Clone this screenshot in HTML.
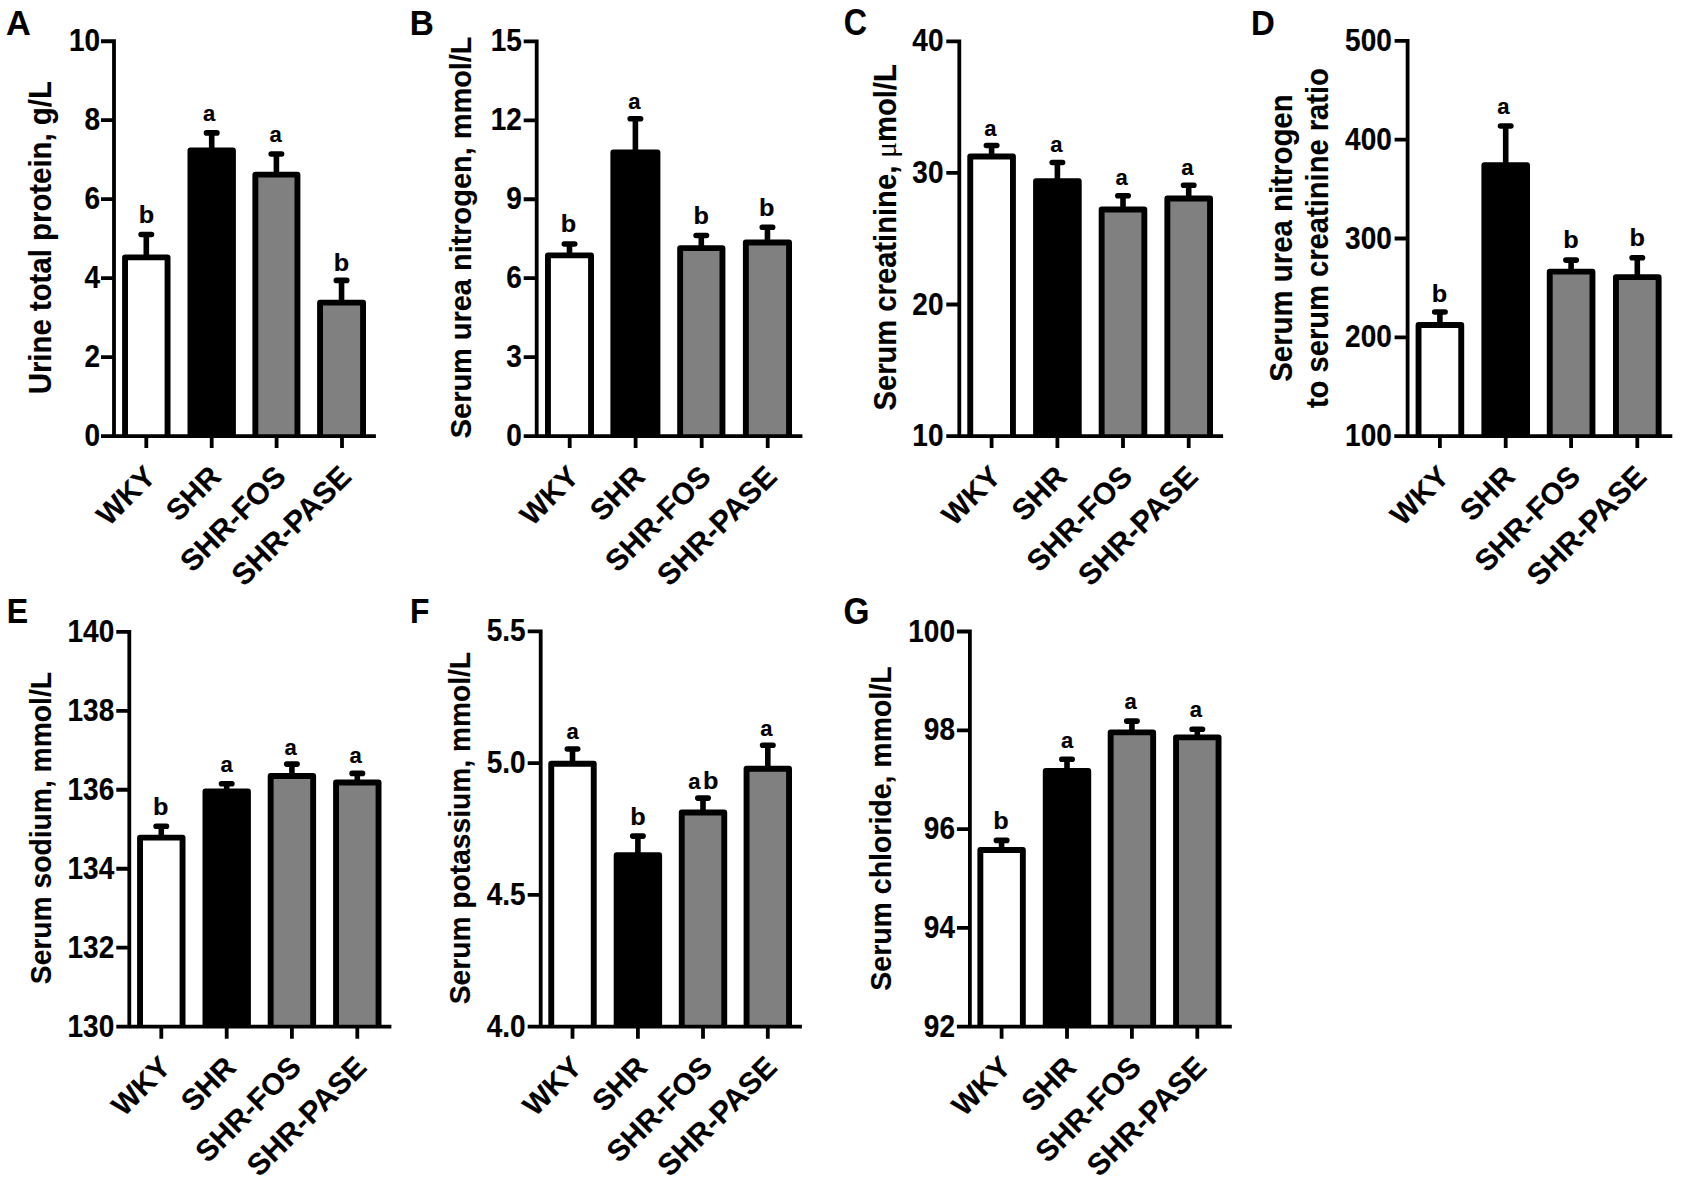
<!DOCTYPE html>
<html lang="en"><head><meta charset="utf-8"><title>Figure</title>
<style>html,body{margin:0;padding:0;background:#fff}body{width:1685px;height:1186px;overflow:hidden}svg{display:block}
text{font-family:'Liberation Sans', sans-serif;font-weight:bold;fill:#000;stroke:#000;stroke-width:.15px}.tk{font-size:28px;text-anchor:end}.yl{text-anchor:start}.xl{font-size:29.7px;text-anchor:end}.sg{font-size:22px;text-anchor:middle}.lt{font-size:35px}.mu{font-family:'Liberation Serif','DejaVu Serif',serif;font-weight:normal;stroke-width:0}
</style></head><body>
<svg width="1685" height="1186" viewBox="0 0 1685 1186">
<rect width="1685" height="1186" fill="#fff"/>
<g>
<text class="lt" transform="translate(5.9 35.4) scale(0.98 1)">A</text>
<path d="M146.3 257.35V234.5M141.1 234.5H151.5" stroke="#000" stroke-width="5.6" stroke-linecap="round" fill="none"/>
<path d="M125.05 436.1V257.35H167.55V436.1" fill="#fff" stroke="#000" stroke-width="5.9" stroke-linejoin="round"/>
<text class="sg" transform="translate(146.6 223.1) scale(1.15 1.1)">b</text>
<path d="M211.7 150.55V132.9M206.5 132.9H216.9" stroke="#000" stroke-width="5.6" stroke-linecap="round" fill="none"/>
<path d="M190.45 436.1V150.55H232.95V436.1" fill="#000" stroke="#000" stroke-width="5.9" stroke-linejoin="round"/>
<text class="sg" transform="translate(209.2 120.5) scale(1 1.03)">a</text>
<path d="M276.4 174.65V154M271.2 154H281.6" stroke="#000" stroke-width="5.6" stroke-linecap="round" fill="none"/>
<path d="M255.35 436.1V174.65H297.45V436.1" fill="#808080" stroke="#000" stroke-width="5.9" stroke-linejoin="round"/>
<text class="sg" transform="translate(275.6 141.6) scale(1 1.03)">a</text>
<path d="M341.55 302.65V280.4M336.35 280.4H346.75" stroke="#000" stroke-width="5.6" stroke-linecap="round" fill="none"/>
<path d="M320.05 436.1V302.65H363.05V436.1" fill="#808080" stroke="#000" stroke-width="5.9" stroke-linejoin="round"/>
<text class="sg" transform="translate(341.55 271) scale(1.15 1.1)">b</text>
<path d="M114 39.35V436.1M101 41.25H114M101 120.22H114M101 199.19H114M101 278.16H114M101 357.13H114M101 436.1H114M101.9 436.1H375.9M146.3 436.1V448.1M211.7 436.1V448.1M276.6 436.1V448.1M342 436.1V448.1" stroke="#000" stroke-width="3.8" fill="none"/>
<text class="tk" transform="translate(100.1 51.25) scale(1 1.13)">10</text>
<text class="tk" transform="translate(100.1 130.22) scale(1 1.13)">8</text>
<text class="tk" transform="translate(100.1 209.19) scale(1 1.13)">6</text>
<text class="tk" transform="translate(100.1 288.16) scale(1 1.13)">4</text>
<text class="tk" transform="translate(100.1 367.13) scale(1 1.13)">2</text>
<text class="tk" transform="translate(100.1 446.1) scale(1 1.13)">0</text>
<text class="xl" style="font-size:29.4px" transform="translate(157.3 478.4) rotate(-45)">WKY</text>
<text class="xl" style="font-size:29.7px" transform="translate(222.7 478.4) rotate(-45)">SHR</text>
<text class="xl" style="font-size:29.9px" transform="translate(287.6 478.4) rotate(-45)">SHR-FOS</text>
<text class="xl" style="font-size:30.3px" transform="translate(353 478.4) rotate(-45)">SHR-PASE</text>
<text class="yl" style="font-size:29.38px" transform="translate(51 394.33) scale(1.045 1) rotate(-90)">Urine total protein, g/L</text>
</g>
<g>
<text class="lt" transform="translate(409.8 34.6) scale(0.95 1.02)">B</text>
<path d="M569.5 255.35V244M564.3 244H574.7" stroke="#000" stroke-width="5.6" stroke-linecap="round" fill="none"/>
<path d="M547.95 436.1V255.35H591.05V436.1" fill="#fff" stroke="#000" stroke-width="5.9" stroke-linejoin="round"/>
<text class="sg" transform="translate(568.5 231.6) scale(1.15 1.1)">b</text>
<path d="M635.4 152.45V118.8M630.2 118.8H640.6" stroke="#000" stroke-width="5.6" stroke-linecap="round" fill="none"/>
<path d="M613.35 436.1V152.45H657.45V436.1" fill="#000" stroke="#000" stroke-width="5.9" stroke-linejoin="round"/>
<text class="sg" transform="translate(634.4 109.3) scale(1 1.03)">a</text>
<path d="M701.3 248.15V235.5M696.1 235.5H706.5" stroke="#000" stroke-width="5.6" stroke-linecap="round" fill="none"/>
<path d="M680.15 436.1V248.15H722.45V436.1" fill="#808080" stroke="#000" stroke-width="5.9" stroke-linejoin="round"/>
<text class="sg" transform="translate(701.3 223.6) scale(1.15 1.1)">b</text>
<path d="M767.45 242.45V227.2M762.25 227.2H772.65" stroke="#000" stroke-width="5.6" stroke-linecap="round" fill="none"/>
<path d="M745.85 436.1V242.45H789.05V436.1" fill="#808080" stroke="#000" stroke-width="5.9" stroke-linejoin="round"/>
<text class="sg" transform="translate(766.65 216.3) scale(1.15 1.1)">b</text>
<path d="M536.7 39.45V436.1M523.7 41.35H536.7M523.7 120.3H536.7M523.7 199.25H536.7M523.7 278.2H536.7M523.7 357.15H536.7M523.7 436.1H536.7M525 436.1H802.4M569.7 436.1V448.1M635.6 436.1V448.1M701.7 436.1V448.1M767.7 436.1V448.1" stroke="#000" stroke-width="3.8" fill="none"/>
<text class="tk" transform="translate(521.9 51.35) scale(1 1.13)">15</text>
<text class="tk" transform="translate(521.9 130.3) scale(1 1.13)">12</text>
<text class="tk" transform="translate(521.9 209.25) scale(1 1.13)">9</text>
<text class="tk" transform="translate(521.9 288.2) scale(1 1.13)">6</text>
<text class="tk" transform="translate(521.9 367.15) scale(1 1.13)">3</text>
<text class="tk" transform="translate(521.9 446.1) scale(1 1.13)">0</text>
<text class="xl" style="font-size:29.4px" transform="translate(580.7 478.4) rotate(-45)">WKY</text>
<text class="xl" style="font-size:29.7px" transform="translate(646.6 478.4) rotate(-45)">SHR</text>
<text class="xl" style="font-size:29.9px" transform="translate(712.7 478.4) rotate(-45)">SHR-FOS</text>
<text class="xl" style="font-size:30.3px" transform="translate(778.7 478.4) rotate(-45)">SHR-PASE</text>
<text class="yl" style="font-size:28.93px" transform="translate(470.7 438.2) scale(1.045 1) rotate(-90)">Serum urea nitrogen, mmol/L</text>
</g>
<g>
<text class="lt" transform="translate(843.7 35.1) scale(0.92 1.055)">C</text>
<path d="M991.6 156.55V145.5M986.4 145.5H996.8" stroke="#000" stroke-width="5.6" stroke-linecap="round" fill="none"/>
<path d="M970.25 436.1V156.55H1012.95V436.1" fill="#fff" stroke="#000" stroke-width="5.9" stroke-linejoin="round"/>
<text class="sg" transform="translate(990.3 136.3) scale(1 1.03)">a</text>
<path d="M1057.4 181.15V162.5M1052.2 162.5H1062.6" stroke="#000" stroke-width="5.6" stroke-linecap="round" fill="none"/>
<path d="M1036.05 436.1V181.15H1078.75V436.1" fill="#000" stroke="#000" stroke-width="5.9" stroke-linejoin="round"/>
<text class="sg" transform="translate(1056.4 152.2) scale(1 1.03)">a</text>
<path d="M1123 209.55V195.7M1117.8 195.7H1128.2" stroke="#000" stroke-width="5.6" stroke-linecap="round" fill="none"/>
<path d="M1101.65 436.1V209.55H1144.35V436.1" fill="#808080" stroke="#000" stroke-width="5.9" stroke-linejoin="round"/>
<text class="sg" transform="translate(1121.6 185.3) scale(1 1.03)">a</text>
<path d="M1188.7 198.55V185.3M1183.5 185.3H1193.9" stroke="#000" stroke-width="5.6" stroke-linecap="round" fill="none"/>
<path d="M1167.35 436.1V198.55H1210.05V436.1" fill="#808080" stroke="#000" stroke-width="5.9" stroke-linejoin="round"/>
<text class="sg" transform="translate(1187.3 175) scale(1 1.03)">a</text>
<path d="M959.3 39.4V436.1M946.3 41.3H959.3M946.3 172.9H959.3M946.3 304.5H959.3M946.3 436.1H959.3M946.9 436.1H1223.1M991.6 436.1V448.1M1057.4 436.1V448.1M1123 436.1V448.1M1188.7 436.1V448.1" stroke="#000" stroke-width="3.8" fill="none"/>
<text class="tk" transform="translate(943.5 51.3) scale(1 1.13)">40</text>
<text class="tk" transform="translate(943.5 182.9) scale(1 1.13)">30</text>
<text class="tk" transform="translate(943.5 314.5) scale(1 1.13)">20</text>
<text class="tk" transform="translate(943.5 446.1) scale(1 1.13)">10</text>
<text class="xl" style="font-size:29.4px" transform="translate(1002.6 478.4) rotate(-45)">WKY</text>
<text class="xl" style="font-size:29.7px" transform="translate(1068.4 478.4) rotate(-45)">SHR</text>
<text class="xl" style="font-size:29.9px" transform="translate(1134 478.4) rotate(-45)">SHR-FOS</text>
<text class="xl" style="font-size:30.3px" transform="translate(1199.7 478.4) rotate(-45)">SHR-PASE</text>
<text class="yl" style="font-size:29.17px" transform="translate(895.5 410.51) scale(1.045 1) rotate(-90)">Serum creatinine, <tspan class="mu">μ</tspan>mol/L</text>
</g>
<g>
<text class="lt" transform="translate(1251 34.7) scale(0.94 1.02)">D</text>
<path d="M1439.9 325.05V312M1434.7 312H1445.1" stroke="#000" stroke-width="5.6" stroke-linecap="round" fill="none"/>
<path d="M1418.55 436.1V325.05H1461.25V436.1" fill="#fff" stroke="#000" stroke-width="5.9" stroke-linejoin="round"/>
<text class="sg" transform="translate(1439.4 301.6) scale(1.15 1.1)">b</text>
<path d="M1505.7 165.25V126M1500.5 126H1510.9" stroke="#000" stroke-width="5.6" stroke-linecap="round" fill="none"/>
<path d="M1484.35 436.1V165.25H1527.05V436.1" fill="#000" stroke="#000" stroke-width="5.9" stroke-linejoin="round"/>
<text class="sg" transform="translate(1503.3 114.1) scale(1 1.03)">a</text>
<path d="M1571.1 271.65V260.1M1565.9 260.1H1576.3" stroke="#000" stroke-width="5.6" stroke-linecap="round" fill="none"/>
<path d="M1549.75 436.1V271.65H1592.45V436.1" fill="#808080" stroke="#000" stroke-width="5.9" stroke-linejoin="round"/>
<text class="sg" transform="translate(1571.1 248.3) scale(1.15 1.1)">b</text>
<path d="M1637.3 277.15V257.7M1632.1 257.7H1642.5" stroke="#000" stroke-width="5.6" stroke-linecap="round" fill="none"/>
<path d="M1615.95 436.1V277.15H1658.65V436.1" fill="#808080" stroke="#000" stroke-width="5.9" stroke-linejoin="round"/>
<text class="sg" transform="translate(1637.3 246.3) scale(1.15 1.1)">b</text>
<path d="M1407.6 39V436.1M1394.6 40.9H1407.6M1394.6 139.7H1407.6M1394.6 238.5H1407.6M1394.6 337.3H1407.6M1394.6 436.1H1407.6M1394.3 436.1H1672.3M1439.9 436.1V448.1M1505.7 436.1V448.1M1571.1 436.1V448.1M1637.3 436.1V448.1" stroke="#000" stroke-width="3.8" fill="none"/>
<text class="tk" transform="translate(1391.8 50.9) scale(1 1.13)">500</text>
<text class="tk" transform="translate(1391.8 149.7) scale(1 1.13)">400</text>
<text class="tk" transform="translate(1391.8 248.5) scale(1 1.13)">300</text>
<text class="tk" transform="translate(1391.8 347.3) scale(1 1.13)">200</text>
<text class="tk" transform="translate(1391.8 446.1) scale(1 1.13)">100</text>
<text class="xl" style="font-size:29.4px" transform="translate(1450.9 478.4) rotate(-45)">WKY</text>
<text class="xl" style="font-size:29.7px" transform="translate(1516.7 478.4) rotate(-45)">SHR</text>
<text class="xl" style="font-size:29.9px" transform="translate(1582.1 478.4) rotate(-45)">SHR-FOS</text>
<text class="xl" style="font-size:30.3px" transform="translate(1648.3 478.4) rotate(-45)">SHR-PASE</text>
<text class="yl" style="font-size:29.41px" transform="translate(1291.8 381.81) scale(1.045 1) rotate(-90)">Serum urea nitrogen</text>
<text class="yl" style="font-size:29.14px" transform="translate(1328.3 408.1) scale(1.045 1) rotate(-90)">to serum creatinine ratio</text>
</g>
<g>
<text class="lt" transform="translate(6.8 622.7) scale(0.915 1.02)">E</text>
<path d="M161.3 837.65V826.3M156.1 826.3H166.5" stroke="#000" stroke-width="5.6" stroke-linecap="round" fill="none"/>
<path d="M140.05 1026.7V837.65H182.55V1026.7" fill="#fff" stroke="#000" stroke-width="5.9" stroke-linejoin="round"/>
<text class="sg" transform="translate(160.8 814.5) scale(1.15 1.1)">b</text>
<path d="M226.7 791.55V783.8M221.5 783.8H231.9" stroke="#000" stroke-width="5.6" stroke-linecap="round" fill="none"/>
<path d="M205.45 1026.7V791.55H247.95V1026.7" fill="#000" stroke="#000" stroke-width="5.9" stroke-linejoin="round"/>
<text class="sg" transform="translate(226.7 772.2) scale(1 1.03)">a</text>
<path d="M291.9 776.05V764.1M286.7 764.1H297.1" stroke="#000" stroke-width="5.6" stroke-linecap="round" fill="none"/>
<path d="M270.65 1026.7V776.05H313.15V1026.7" fill="#808080" stroke="#000" stroke-width="5.9" stroke-linejoin="round"/>
<text class="sg" transform="translate(290.5 754.9) scale(1 1.03)">a</text>
<path d="M357.3 782.45V773.4M352.1 773.4H362.5" stroke="#000" stroke-width="5.6" stroke-linecap="round" fill="none"/>
<path d="M336.05 1026.7V782.45H378.55V1026.7" fill="#808080" stroke="#000" stroke-width="5.9" stroke-linejoin="round"/>
<text class="sg" transform="translate(355.7 763) scale(1 1.03)">a</text>
<path d="M129.3 629.9V1026.7M116.3 631.8H129.3M116.3 710.78H129.3M116.3 789.76H129.3M116.3 868.74H129.3M116.3 947.72H129.3M116.3 1026.7H129.3M116.9 1026.7H391.4M161.3 1026.7V1038.7M226.7 1026.7V1038.7M291.9 1026.7V1038.7M357.3 1026.7V1038.7" stroke="#000" stroke-width="3.8" fill="none"/>
<text class="tk" transform="translate(114.2 641.8) scale(1 1.13)">140</text>
<text class="tk" transform="translate(114.2 720.78) scale(1 1.13)">138</text>
<text class="tk" transform="translate(114.2 799.76) scale(1 1.13)">136</text>
<text class="tk" transform="translate(114.2 878.74) scale(1 1.13)">134</text>
<text class="tk" transform="translate(114.2 957.72) scale(1 1.13)">132</text>
<text class="tk" transform="translate(114.2 1036.7) scale(1 1.13)">130</text>
<text class="xl" style="font-size:29.4px" transform="translate(172.3 1069) rotate(-45)">WKY</text>
<text class="xl" style="font-size:29.7px" transform="translate(237.7 1069) rotate(-45)">SHR</text>
<text class="xl" style="font-size:29.9px" transform="translate(302.9 1069) rotate(-45)">SHR-FOS</text>
<text class="xl" style="font-size:30.3px" transform="translate(368.3 1069) rotate(-45)">SHR-PASE</text>
<text class="yl" style="font-size:28.25px" transform="translate(50.6 984.17) scale(1.045 1) rotate(-90)">Serum sodium, mmol/L</text>
</g>
<g>
<text class="lt" transform="translate(409.9 623) scale(0.906 1.01)">F</text>
<path d="M572.5 763.75V749M567.3 749H577.7" stroke="#000" stroke-width="5.6" stroke-linecap="round" fill="none"/>
<path d="M551.25 1026.7V763.75H593.75V1026.7" fill="#fff" stroke="#000" stroke-width="5.9" stroke-linejoin="round"/>
<text class="sg" transform="translate(572.5 738.8) scale(1 1.03)">a</text>
<path d="M637.9 855.15V836.1M632.7 836.1H643.1" stroke="#000" stroke-width="5.6" stroke-linecap="round" fill="none"/>
<path d="M616.65 1026.7V855.15H659.15V1026.7" fill="#000" stroke="#000" stroke-width="5.9" stroke-linejoin="round"/>
<text class="sg" transform="translate(637.9 824.9) scale(1.15 1.1)">b</text>
<path d="M703 812.55V798.1M697.8 798.1H708.2" stroke="#000" stroke-width="5.6" stroke-linecap="round" fill="none"/>
<path d="M681.75 1026.7V812.55H724.25V1026.7" fill="#808080" stroke="#000" stroke-width="5.9" stroke-linejoin="round"/>
<text class="sg" transform="translate(694.4 788.7) scale(1 1.03)">a</text>
<text class="sg" transform="translate(710.8 788.7) scale(1.15 1.1)">b</text>
<path d="M767.8 768.75V745.3M762.6 745.3H773" stroke="#000" stroke-width="5.6" stroke-linecap="round" fill="none"/>
<path d="M746.55 1026.7V768.75H789.05V1026.7" fill="#808080" stroke="#000" stroke-width="5.9" stroke-linejoin="round"/>
<text class="sg" transform="translate(766.4 735.6) scale(1 1.03)">a</text>
<path d="M540.7 629.4V1026.7M527.7 631.3H540.7M527.7 763.1H540.7M527.7 894.9H540.7M527.7 1026.7H540.7M528.3 1026.7H801.9M572.5 1026.7V1038.7M637.9 1026.7V1038.7M703 1026.7V1038.7M767.8 1026.7V1038.7" stroke="#000" stroke-width="3.8" fill="none"/>
<text class="tk" transform="translate(525.6 641.3) scale(1 1.13)">5.5</text>
<text class="tk" transform="translate(525.6 773.1) scale(1 1.13)">5.0</text>
<text class="tk" transform="translate(525.6 904.9) scale(1 1.13)">4.5</text>
<text class="tk" transform="translate(525.6 1036.7) scale(1 1.13)">4.0</text>
<text class="xl" style="font-size:29.4px" transform="translate(583.5 1069) rotate(-45)">WKY</text>
<text class="xl" style="font-size:29.7px" transform="translate(648.9 1069) rotate(-45)">SHR</text>
<text class="xl" style="font-size:29.9px" transform="translate(714 1069) rotate(-45)">SHR-FOS</text>
<text class="xl" style="font-size:30.3px" transform="translate(778.8 1069) rotate(-45)">SHR-PASE</text>
<text class="yl" style="font-size:28.18px" transform="translate(470 1004.17) scale(1.045 1) rotate(-90)">Serum potassium, mmol/L</text>
</g>
<g>
<text class="lt" transform="translate(843.6 623.5) scale(0.953 1.08)">G</text>
<path d="M1001.6 849.95V840.4M996.4 840.4H1006.8" stroke="#000" stroke-width="5.6" stroke-linecap="round" fill="none"/>
<path d="M980.35 1026.7V849.95H1022.85V1026.7" fill="#fff" stroke="#000" stroke-width="5.9" stroke-linejoin="round"/>
<text class="sg" transform="translate(1001.1 828.5) scale(1.15 1.1)">b</text>
<path d="M1067 770.95V759.3M1061.8 759.3H1072.2" stroke="#000" stroke-width="5.6" stroke-linecap="round" fill="none"/>
<path d="M1045.75 1026.7V770.95H1088.25V1026.7" fill="#000" stroke="#000" stroke-width="5.9" stroke-linejoin="round"/>
<text class="sg" transform="translate(1067 748.2) scale(1 1.03)">a</text>
<path d="M1131.9 732.35V721.1M1126.7 721.1H1137.1" stroke="#000" stroke-width="5.6" stroke-linecap="round" fill="none"/>
<path d="M1110.65 1026.7V732.35H1153.15V1026.7" fill="#808080" stroke="#000" stroke-width="5.9" stroke-linejoin="round"/>
<text class="sg" transform="translate(1130.5 709.2) scale(1 1.03)">a</text>
<path d="M1197.3 737.35V729.2M1192.1 729.2H1202.5" stroke="#000" stroke-width="5.6" stroke-linecap="round" fill="none"/>
<path d="M1176.05 1026.7V737.35H1218.55V1026.7" fill="#808080" stroke="#000" stroke-width="5.9" stroke-linejoin="round"/>
<text class="sg" transform="translate(1195.9 717.3) scale(1 1.03)">a</text>
<path d="M969.9 629.6V1026.7M956.9 631.5H969.9M956.9 730.3H969.9M956.9 829.1H969.9M956.9 927.9H969.9M956.9 1026.7H969.9M957.2 1026.7H1231.8M1001.6 1026.7V1038.7M1067 1026.7V1038.7M1131.9 1026.7V1038.7M1197.3 1026.7V1038.7" stroke="#000" stroke-width="3.8" fill="none"/>
<text class="tk" transform="translate(955 641.5) scale(1 1.13)">100</text>
<text class="tk" transform="translate(955 740.3) scale(1 1.13)">98</text>
<text class="tk" transform="translate(955 839.1) scale(1 1.13)">96</text>
<text class="tk" transform="translate(955 937.9) scale(1 1.13)">94</text>
<text class="tk" transform="translate(955 1036.7) scale(1 1.13)">92</text>
<text class="xl" style="font-size:29.4px" transform="translate(1012.6 1069) rotate(-45)">WKY</text>
<text class="xl" style="font-size:29.7px" transform="translate(1078 1069) rotate(-45)">SHR</text>
<text class="xl" style="font-size:29.9px" transform="translate(1142.9 1069) rotate(-45)">SHR-FOS</text>
<text class="xl" style="font-size:30.3px" transform="translate(1208.3 1069) rotate(-45)">SHR-PASE</text>
<text class="yl" style="font-size:28.48px" transform="translate(891 990.68) scale(1.045 1) rotate(-90)">Serum chloride, mmol/L</text>
</g>
</svg></body></html>
